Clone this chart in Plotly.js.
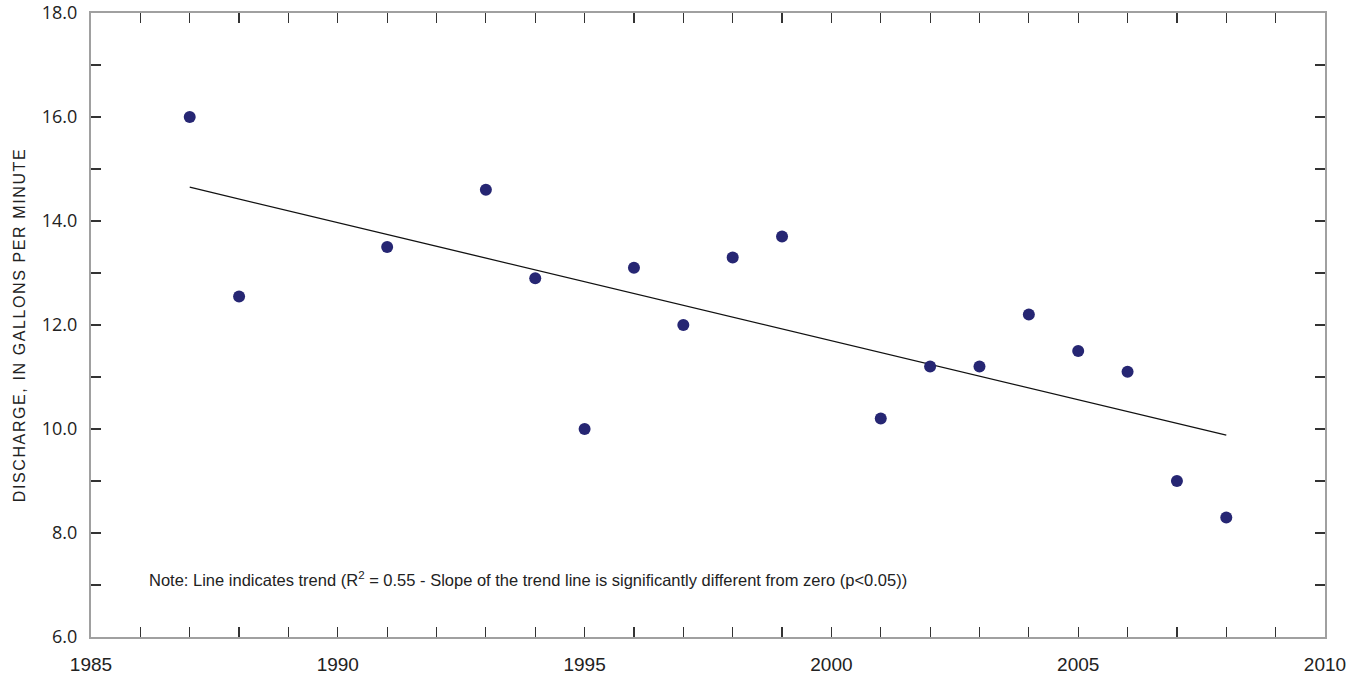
<!DOCTYPE html>
<html>
<head>
<meta charset="utf-8">
<script src="https://cdn.plot.ly/plotly-3.0.1.min.js"></script>
<style>
html,body{margin:0;padding:0;background:#fff;}
#chart{width:1359px;height:681px;}
#chart .ytitle{letter-spacing:1.6px;}
</style>
</head>
<body>
<div id="chart"></div>
<script>
const years = [1987, 1988, 1991, 1993, 1994, 1995, 1996, 1997, 1998, 1999, 2001, 2002, 2003, 2004, 2005, 2006, 2007, 2008];
const discharge = [16.0, 12.55, 13.5, 14.6, 12.9, 10.0, 13.1, 12.0, 13.3, 13.7, 10.2, 11.2, 11.2, 12.2, 11.5, 11.1, 9.0, 8.3];
const trendYears = [1987, 2008];
const trendValues = [14.65, 9.88];
const noteText = 'Note: Line indicates trend (R<sup>2</sup> = 0.55 - Slope of the trend line is significantly different from zero (p<0.05))';
const yTitle = 'DISCHARGE, IN GALLONS PER MINUTE';

const narrow = 'Liberation Sans Narrow, Arial Narrow, Liberation Sans, sans-serif';

const traces = [
  {
    x: trendYears, y: trendValues, mode: 'lines', type: 'scatter',
    line: {color: '#111', width: 1.3}, hoverinfo: 'skip', showlegend: false
  },
  {
    x: years, y: discharge, mode: 'markers', type: 'scatter',
    marker: {color: '#262673', size: 12}, showlegend: false
  }
];

const layout = {
  width: 1359, height: 681,
  margin: {l: 91, r: 34, t: 13, b: 44},
  paper_bgcolor: '#fff', plot_bgcolor: '#fff',
  showlegend: false,
  xaxis: {
    range: [1985, 2010], dtick: 5, tick0: 1985,
    showgrid: false, zeroline: false,
    showline: true, linecolor: '#a0a0a0', linewidth: 2, mirror: 'ticks',
    ticks: 'inside', ticklen: 10, tickcolor: '#333', tickwidth: 1.2,
    minor: {dtick: 1, tick0: 1985, ticks: 'inside', ticklen: 10, tickcolor: '#333', tickwidth: 1.2, showgrid: false},
    tickfont: {family: narrow, size: 19, color: '#222'},
    ticklabelstandoff: 9
  },
  yaxis: {
    range: [6, 18], dtick: 2, tick0: 6, tickformat: '.1f',
    showgrid: false, zeroline: false,
    showline: true, linecolor: '#a0a0a0', linewidth: 2, mirror: 'ticks',
    ticks: 'inside', ticklen: 10, tickcolor: '#333', tickwidth: 1.2,
    minor: {dtick: 1, tick0: 6, ticks: 'inside', ticklen: 10, tickcolor: '#333', tickwidth: 1.2, showgrid: false},
    tickfont: {family: 'Open Sans, sans-serif', size: 18, color: '#222'},
    ticklabelstandoff: 8,
    title: {text: yTitle, font: {family: narrow, size: 16, color: '#222'}, standoff: 12}
  },
  annotations: [
    {
      x: 0, y: 0, xref: 'paper', yref: 'paper', xanchor: 'left', yanchor: 'middle',
      xshift: 56, yshift: 58,
      text: noteText, showarrow: false,
      font: {family: narrow, size: 16.5, color: '#222'}
    }
  ]
};

Plotly.newPlot('chart', traces, layout, {staticPlot: true, displayModeBar: false});
</script>
</body>
</html>
